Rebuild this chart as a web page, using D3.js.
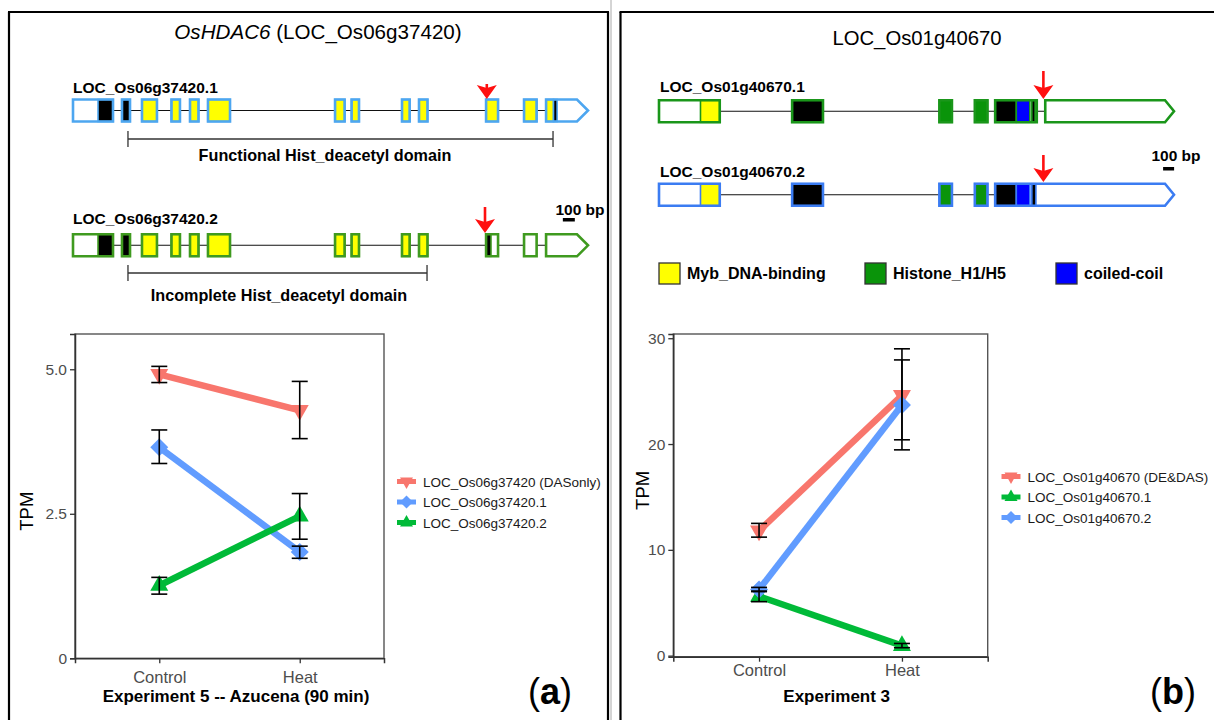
<!DOCTYPE html>
<html><head><meta charset="utf-8">
<script src="https://cdn.jsdelivr.net/npm/d3@7"></script>
<style>body{margin:0;background:#fff}svg{display:block;font-family:"Liberation Sans",Arial,sans-serif}</style>
</head><body><svg id="c" width="1214" height="720"></svg>
<script>
// ================= DATA =================
const conditions = ["Control", "Heat"];

// Panel (a) expression (TPM)
const seriesA = ["LOC_Os06g37420 (DASonly)", "LOC_Os06g37420.1", "LOC_Os06g37420.2"];
const meanA = [[4.91, 4.29], [3.65, 1.84], [1.26, 2.46]];
const lowA  = [[4.77, 3.80], [3.37, 1.73], [1.11, 2.06]];
const highA = [[5.05, 4.79], [3.95, 1.94], [1.40, 2.85]];
const shapesA = ["down", "diamond", "up"];
const yTicksA = [0, 2.5, 5.0];
const yTickLabelsA = ["0", "2.5", "5.0"];

// Panel (b) expression (TPM)
const seriesB = ["LOC_Os01g40670 (DE&DAS)", "LOC_Os01g40670.1", "LOC_Os01g40670.2"];
const meanB = [[11.8, 24.6], [5.6, 0.95], [6.25, 23.7]];
const lowB  = [[11.2, 20.4], [5.1, 0.75], [6.05, 19.45]];
const highB = [[12.5, 29.0], [6.1, 1.15], [6.45, 27.95]];
const shapesB = ["down", "up", "diamond"];
const yTicksB = [0, 10, 20, 30];
const yTickLabelsB = ["0", "10", "20", "30"];

// Gene models (bp coordinates)
const geneLenA = 4300;
const exonsA1 = [[0,334],[409,476],[576,701],[822,893],[977,1048],[1127,1311],[2188,2268],[2326,2388],[2747,2811],[2889,2960],[3449,3549],[3766,3871],[3950,4300]];
const featsA1 = [[209,334,"cds"],[409,476,"cds"],[576,701,"dom"],[822,893,"dom"],[977,1048,"dom"],[1127,1311,"dom"],[2188,2268,"dom"],[2326,2388,"dom"],[2747,2811,"dom"],[2889,2960,"dom"],[3449,3549,"dom"],[3766,3871,"dom"],[3950,4012,"dom"],[4012,4042,"cds"]];
const exonsA2 = [[0,334],[409,476],[576,701],[822,893],[977,1048],[1127,1311],[2188,2268],[2326,2388],[2747,2811],[2889,2960],[3449,3549],[3766,3871],[3950,4300]];
const featsA2 = [[209,334,"cds"],[409,476,"cds"],[576,701,"dom"],[822,893,"dom"],[977,1048,"dom"],[1127,1311,"dom"],[2188,2268,"dom"],[2326,2388,"dom"],[2747,2811,"dom"],[2889,2960,"dom"],[3449,3490,"cds"]];
const domainA1 = [459, 4008];
const domainA2 = [459, 2956];
const arrowA1 = 3455, arrowA2 = 3440;

const geneLenB = 4680;
const exonsB1 = [[0,552],[1210,1490],[2548,2662],[2870,2985],[3055,3433],[3510,4680]];
const featsB1 = [[377,552,"myb"],[1210,1490,"cds"],[2548,2662,"histone"],[2870,2985,"histone"],[3055,3247,"cds"],[3247,3370,"coil"],[3388,3418,"cds"]];
const exonsB2 = [[0,552],[1210,1490],[2548,2662],[2870,2985],[3055,4680]];
const featsB2 = [[377,552,"myb"],[1210,1490,"cds"],[2548,2662,"histone"],[2870,2985,"histone"],[3055,3247,"cds"],[3247,3370,"coil"],[3388,3425,"cds"]];
const arrowB = 3493;
const legendDomains = ["Myb_DNA-binding", "Histone_H1/H5", "coiled-coil"];
const legendDomainKeys = ["myb", "histone", "coil"];

// ================= STYLE =================
const seriesColA = ["#F8766D", "#619CFF", "#00BA38"];
const seriesColB = ["#F8766D", "#00BA38", "#619CFF"];
const featCol = {cds: "#000000", dom: "#ffff00", myb: "#ffff00", histone: "#0a940a", coil: "#0000ff"};
const svg = d3.select("#c");

function ln(x1, y1, x2, y2, col, w) {
  svg.append("line").attr("x1", x1).attr("y1", y1).attr("x2", x2).attr("y2", y2)
    .attr("stroke", col).attr("stroke-width", w);
}
ln(9, 12, 9, 720, "#000", 2.2);
ln(8, 12, 609, 12, "#000", 2.2);
ln(608, 12, 608, 720, "#000", 2.2);
ln(611, 0, 611, 720, "#aaa", 1);
ln(620.5, 12, 620.5, 720, "#000", 2.2);
ln(619.5, 12, 1214, 12, "#000", 2.2);

function text(x, y, s, size, opts = {}) {
  const t = svg.append("text").attr("x", x).attr("y", y).attr("font-size", size)
    .attr("fill", opts.fill || "#000").attr("text-anchor", opts.anchor || "start")
    .attr("font-weight", opts.bold ? "bold" : "normal");
  if (opts.italic) t.attr("font-style", "italic");
  t.text(s);
  return t;
}

// ================= GENE MODELS =================
function exonPath(x0, x1, cy, h, isArrow, tip) {
  const t = cy - h / 2, b = cy + h / 2;
  if (!isArrow) return `M${x0},${t}H${x1}V${b}H${x0}Z`;
  return `M${x0},${t}H${x1 - tip}L${x1},${cy}L${x1 - tip},${b}H${x0}Z`;
}
function geneModel(x, cy, exons, feats, stroke, tip) {
  const g = svg.append("g");
  const h = 22;
  g.append("line").attr("x1", x(exons[0][0])).attr("x2", x(exons[exons.length - 1][1]))
    .attr("y1", cy).attr("y2", cy).attr("stroke", "#111").attr("stroke-width", 1.1);
  g.selectAll("path.fill").data(exons).join("path")
    .attr("d", (e, i) => exonPath(x(e[0]), x(e[1]), cy, h, i === exons.length - 1, tip))
    .attr("fill", "#fff");
  g.selectAll("rect.f").data(feats).join("rect")
    .attr("x", f => x(f[0])).attr("width", f => x(f[1]) - x(f[0]))
    .attr("y", cy - h / 2).attr("height", h)
    .attr("fill", f => featCol[f[2]]).attr("stroke", stroke).attr("stroke-width", 1.6);
  g.selectAll("path.o").data(exons).join("path")
    .attr("d", (e, i) => exonPath(x(e[0]), x(e[1]), cy, h, i === exons.length - 1, tip))
    .attr("fill", "none").attr("stroke", stroke).attr("stroke-width", 2.6);
}
function redArrow(x, y0, y1) {
  ln(x, y0, x, y1 - 9, "#ff1010", 2.6);
  svg.append("path").attr("d", `M${x - 10},${y1 - 14}L${x},${y1 - 11}L${x + 10},${y1 - 14}L${x},${y1}Z`)
    .attr("fill", "#ff1010");
}
function bracket(x0, x1, y) {
  ln(x0, y, x1, y, "#333", 1.3);
  ln(x0, y - 8, x0, y + 8, "#333", 1.3);
  ln(x1, y - 8, x1, y + 8, "#333", 1.3);
}

// Panel (a) gene models
const xgA = d3.scaleLinear().domain([0, geneLenA]).range([73, 588]);
const tA = text(318, 39, "", 20.6, {anchor: "middle"});
tA.append("tspan").attr("font-style", "italic").text("OsHDAC6");
tA.append("tspan").text(" (LOC_Os06g37420)");
text(73, 93, "LOC_Os06g37420.1", 15.5, {bold: true});
geneModel(xgA, 110.5, exonsA1, featsA1, "#4da6f0", 11);
redArrow(xgA(arrowA1), 84, 99);
bracket(xgA(domainA1[0]), xgA(domainA1[1]), 139);
text(325, 161, "Functional Hist_deacetyl domain", 16.2, {bold: true, anchor: "middle"});
text(73, 224, "LOC_Os06g37420.2", 15.5, {bold: true});
geneModel(xgA, 245.3, exonsA2, featsA2, "#3f9a1f", 11);
redArrow(xgA(arrowA2), 207, 233);
bracket(xgA(domainA1[0]), xgA(domainA2[1]), 273);
text(279, 301, "Incomplete Hist_deacetyl domain", 16.2, {bold: true, anchor: "middle"});
text(580, 215, "100 bp", 15.5, {bold: true, anchor: "middle"});
svg.append("rect").attr("x", xgA(3540 + 550)).attr("width", xgA(100) - xgA(0)).attr("y", 218).attr("height", 3.5).attr("fill", "#000");

// Panel (b) gene models
const xgB = d3.scaleLinear().domain([0, geneLenB]).range([659, 1174]);
text(917, 45, "LOC_Os01g40670", 20.3, {anchor: "middle"});
text(660, 91.5, "LOC_Os01g40670.1", 15.5, {bold: true});
geneModel(xgB, 111.3, exonsB1, featsB1, "#1a961a", 9);
redArrow(xgB(arrowB), 71, 99);
text(660, 177, "LOC_Os01g40670.2", 15.5, {bold: true});
geneModel(xgB, 194.7, exonsB2, featsB2, "#3b7cf2", 9);
redArrow(xgB(arrowB), 155, 182);
text(1176, 161, "100 bp", 15.5, {bold: true, anchor: "middle"});
svg.append("rect").attr("x", xgB(4590) - 1).attr("width", xgB(100) - xgB(0)).attr("y", 167).attr("height", 3.5).attr("fill", "#000");

const legX = [659, 865, 1056];
legendDomains.forEach((d, i) => {
  svg.append("rect").attr("x", legX[i]).attr("y", 263).attr("width", 21).attr("height", 21)
    .attr("fill", featCol[legendDomainKeys[i]]).attr("stroke", "#333").attr("stroke-width", 1.3);
  text(legX[i] + 28, 278.5, d, 16, {bold: true});
});

// ================= CHARTS =================
function marker(shape, r) {
  if (shape === "up") return `M0,${-r * 1.15}L${r},${r * 0.6}L${-r},${r * 0.6}Z`;
  if (shape === "down") return `M0,${r * 1.15}L${r},${-r * 0.6}L${-r},${-r * 0.6}Z`;
  return `M0,${-r}L${r},0L0,${r}L${-r},0Z`;
}
function chart(o) {
  const g = svg.append("g");
  const x = d3.scalePoint().domain(conditions).range([o.x0, o.x1]).padding(0.6);
  const y = d3.scaleLinear().domain(o.yDomain).range([o.y1, o.y0]);
  g.append("rect").attr("x", o.x0).attr("y", o.y0).attr("width", o.x1 - o.x0).attr("height", o.y1 - o.y0)
    .attr("fill", "#fff").attr("stroke", "#555").attr("stroke-width", 1.4);
  const ya = g.append("g").attr("transform", `translate(${o.x0},0)`)
    .call(d3.axisLeft(y).tickValues(o.ticks).tickFormat((d, i) => o.tickLabels[i]).tickSize(5).tickPadding(3));
  const xa = g.append("g").attr("transform", `translate(0,${o.y1})`)
    .call(d3.axisBottom(x).tickSize(5).tickPadding(o.xPad));
  [ya, xa].forEach(a => {
    a.select(".domain").attr("stroke", "#333").attr("stroke-width", 1.5);
    a.selectAll(".tick line").attr("stroke", "#333").attr("stroke-width", 1.3);
    a.selectAll(".tick text").attr("fill", "#4d4d4d").attr("font-size", 15.5)
      .attr("font-family", '"Liberation Sans",Arial,sans-serif');
  });
  xa.selectAll(".tick text").attr("font-size", 16.5);
  o.means.forEach((m, i) => {
    g.append("path").datum(m)
      .attr("d", d3.line().x((v, j) => x(conditions[j])).y(v => y(v)))
      .attr("fill", "none").attr("stroke", o.colors[i]).attr("stroke-width", 6.5);
  });
  o.means.forEach((m, i) => {
    g.selectAll(null).data(m).join("path")
      .attr("transform", (v, j) => `translate(${x(conditions[j])},${y(v)})`)
      .attr("d", marker(o.shapes[i], 9)).attr("fill", o.colors[i]);
  });
  o.means.forEach((m, i) => {
    m.forEach((v, j) => {
      const cx = x(conditions[j]), lo = y(o.lows[i][j]), hi = y(o.highs[i][j]);
      g.append("line").attr("x1", cx).attr("x2", cx).attr("y1", lo).attr("y2", hi).attr("stroke", "#000").attr("stroke-width", 1.6);
      [lo, hi].forEach(yy => g.append("line").attr("x1", cx - 8).attr("x2", cx + 8).attr("y1", yy).attr("y2", yy)
        .attr("stroke", "#000").attr("stroke-width", 1.6));
    });
  });
  svg.append("text").attr("transform", `translate(${o.tpmX},${(o.y0 + o.y1) / 2 + o.tpmDy}) rotate(-90)`)
    .attr("text-anchor", "middle").attr("font-size", 18.5).text("TPM");
  text(o.titleX, 702, o.xTitle, 17, {bold: true, anchor: "middle"});
  o.series.forEach((s, i) => {
    const ly = o.legY + i * 20.5;
    g.append("line").attr("x1", o.legX).attr("x2", o.legX + 19).attr("y1", ly).attr("y2", ly)
      .attr("stroke", o.colors[i]).attr("stroke-width", 5);
    g.append("path").attr("transform", `translate(${o.legX + 9.5},${ly})`)
      .attr("d", marker(o.shapes[i], 6.5)).attr("fill", o.colors[i]);
    text(o.legX + 26, ly + 5, s, 13.5, {fill: "#1a1a1a"});
  });
}

chart({x0: 75, x1: 384, y0: 334, y1: 658.3, yDomain: [0, 5.61], ticks: yTicksA, tickLabels: yTickLabelsA,
  means: meanA, lows: lowA, highs: highA, colors: seriesColA, shapes: shapesA, series: seriesA,
  xPad: 8, tpmX: 33, tpmDy: 15, titleX: 236, xTitle: "Experiment 5 -- Azucena (90 min)", legX: 397, legY: 481.5});
chart({x0: 673.3, x1: 987.7, y0: 334, y1: 656.7, yDomain: [-0.1, 30.4], ticks: yTicksB, tickLabels: yTickLabelsB,
  means: meanB, lows: lowB, highs: highB, colors: seriesColB, shapes: shapesB, series: seriesB,
  xPad: 3, tpmX: 649, tpmDy: -5, titleX: 836.7, xTitle: "Experiment 3", legX: 1001.5, legY: 476.5});

function tag(x, letter) {
  const t = text(x, 704, "", 36);
  t.append("tspan").text("(");
  t.append("tspan").attr("font-weight", "bold").text(letter);
  t.append("tspan").text(")");
}
tag(528, "a");
tag(1150, "b");
</script></body></html>
